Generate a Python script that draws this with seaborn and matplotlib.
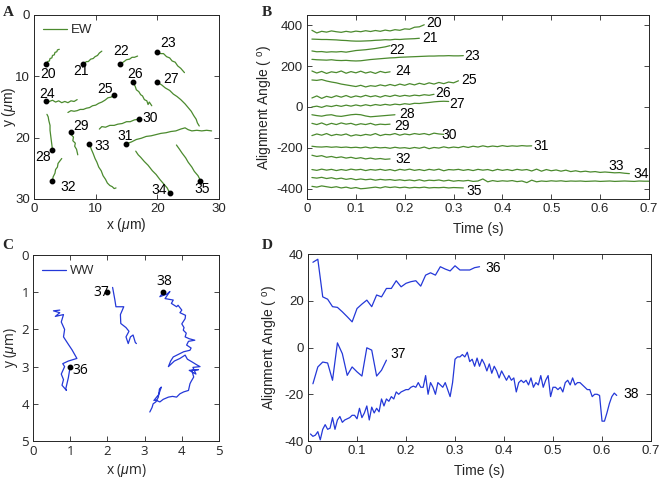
import numpy as np
import pandas as pd
import matplotlib
matplotlib.use("Agg")
import matplotlib.pyplot as plt
import seaborn as sns
from matplotlib.lines import Line2D

# ---------------- data ----------------
# Panel A: EW trajectories (x, y in um), first point = start dot
ew20 = [(2.0, 8.0), (2.2, 7.6), (2.5, 7.5), (2.6, 7.1), (2.9, 7.0), (3.0, 6.6), (3.3, 6.5), (3.4, 6.1), (3.7, 6.0), (3.8, 5.7), (4.1, 5.6)]
ew21 = [(8.0, 8.0), (8.5, 7.6), (8.8, 7.6), (9.2, 7.2), (9.6, 7.1), (9.9, 6.8), (10.3, 6.6), (10.6, 6.2), (11.0, 5.9)]
ew22 = [(14.0, 8.0), (14.6, 7.6), (15.0, 7.3), (15.5, 7.2), (15.9, 6.9), (16.3, 6.9), (16.8, 6.7)]
ew23 = [(20.0, 6.0), (20.5, 6.3), (21.0, 6.3), (21.5, 6.8), (22.0, 7.0), (22.4, 7.5), (22.9, 7.7), (23.3, 8.3), (23.8, 8.7), (24.4, 9.4)]
ew24 = [(2.0, 14.0), (2.5, 14.1), (3.0, 13.9), (3.5, 14.2), (4.0, 14.0), (4.5, 14.3), (5.0, 14.1), (5.5, 14.3), (6.0, 14.0), (6.5, 14.1), (7.0, 13.8)]
ew25 = [(13.0, 13.0), (12.5, 13.4), (12.0, 13.5), (11.5, 13.9), (11.0, 14.2), (10.5, 14.4), (10.0, 14.7), (9.5, 14.8), (9.0, 15.1), (8.5, 15.2), (8.0, 15.4), (7.5, 15.4), (7.0, 15.6), (6.5, 15.7), (6.0, 15.6), (5.5, 15.9)]
ew26 = [(16.0, 11.0), (16.4, 11.6), (16.6, 12.2), (17.0, 12.5), (17.3, 13.0), (17.6, 13.2), (17.9, 13.8), (18.3, 14.0), (18.5, 14.6), (18.7, 14.2), (19.1, 14.8)]
ew27 = [(20.0, 11.0), (20.7, 11.4), (21.3, 11.9), (22.0, 12.3), (22.6, 12.9), (23.2, 13.3), (23.8, 13.8), (24.5, 14.5), (25.0, 15.1), (25.5, 15.7), (25.9, 16.4), (26.3, 17.0), (26.5, 17.6), (26.8, 18.1)]
ew28 = [(3.0, 22.0), (2.9, 21.2), (2.8, 20.4), (2.7, 19.6), (2.6, 18.8), (2.6, 18.0), (2.4, 17.2), (2.3, 16.6), (2.1, 16.2)]
ew29 = [(6.0, 19.0), (6.1, 19.6), (6.4, 19.9), (6.3, 20.5), (6.7, 20.9), (6.6, 21.4), (6.9, 21.9), (7.1, 22.8)]
ew30 = [(17.0, 17.0), (16.3, 17.1), (15.6, 17.4), (15.0, 17.4), (14.3, 17.7), (13.6, 17.8), (13.0, 18.0), (12.3, 18.0), (11.6, 18.3), (11.0, 18.2), (10.6, 18.6)]
ew31 = [(15.0, 21.0), (15.8, 20.7), (16.6, 20.3), (17.4, 20.1), (18.2, 19.8), (19.0, 19.7), (19.8, 19.5), (20.6, 19.3), (21.4, 19.2), (22.2, 19.0), (23.0, 18.9), (23.8, 18.6), (24.5, 18.4), (25.0, 18.7), (25.6, 18.9), (26.4, 18.8), (27.2, 18.9), (28.0, 18.8), (28.8, 18.9)]
ew32 = [(3.0, 27.0), (3.1, 26.4), (3.4, 25.8), (3.5, 25.2), (3.8, 24.8), (3.9, 24.2), (4.2, 23.8), (4.5, 23.4)]
ew33 = [(9.0, 21.0), (9.3, 21.9), (9.6, 22.6), (9.9, 23.4), (10.2, 24.0), (10.5, 24.8), (10.9, 25.4), (11.2, 26.2), (11.6, 26.8), (11.9, 27.4), (12.3, 27.8), (12.7, 28.0), (13.0, 28.3), (13.3, 28.2)]
ew34 = [(22.0, 29.0), (21.6, 28.2), (21.0, 27.5), (20.4, 26.8), (19.8, 26.0), (19.2, 25.4), (18.5, 24.5), (17.9, 23.9), (17.3, 23.2), (16.9, 22.8), (16.5, 22.2)]
ew35 = [(27.0, 27.0), (26.6, 26.2), (26.0, 25.5), (25.6, 24.8), (25.0, 24.0), (24.6, 23.3), (24.0, 22.5), (23.6, 21.9), (23.1, 21.2)]
ew_ids = [20, 21, 22, 23, 24, 25, 26, 27, 28, 29, 30, 31, 32, 33, 34, 35]
ew_label_pos = [(2.3, 9.6), (7.7, 9.1), (14.2, 5.8), (21.8, 4.5), (2.2, 12.9), (11.5, 12.1),
                (16.4, 9.6), (22.3, 10.5), (1.5, 23.2), (7.7, 18.1), (18.8, 16.8), (14.8, 19.7),
                (5.6, 28.1), (11.0, 21.4), (20.3, 28.6), (27.2, 28.4)]

# Panel B: alignment angle (deg), sampled every 0.01 s from t = 0.01 s
B_DT = 0.01
b20 = [375, 362, 370, 366, 372, 368, 365, 370, 366, 371, 368, 373, 369, 374, 370, 376, 372, 378, 375, 382, 380, 390, 392, 402]
b21 = [332, 331, 330, 330, 329, 328, 326, 325, 323, 322, 322, 323, 324, 326, 327, 329, 328, 331, 330, 332, 333, 334, 336]
b22 = [274, 270, 271, 268, 270, 269, 271, 268, 272, 276, 278, 280, 283, 286, 290, 294, 300]
b23 = [233, 231, 230, 229, 231, 228, 227, 228, 226, 225, 226, 229, 232, 234, 236, 238, 240, 241, 243, 244, 245, 246, 247, 248, 249, 249, 250, 250, 251, 250, 250, 251]
b24 = [176, 166, 174, 164, 172, 168, 176, 165, 173, 167, 175, 166, 172, 164, 174, 168, 172]
b25 = [132, 130, 134, 127, 122, 118, 112, 108, 104, 100, 106, 98, 104, 101, 108, 103, 110, 104, 112, 106, 114, 108, 116, 110, 118, 112, 120, 114, 122, 118, 128]
b26 = [44, 54, 42, 52, 46, 55, 48, 56, 47, 54, 49, 57, 50, 55, 48, 56, 51, 58, 52, 57, 53, 58, 55, 60, 57, 62]
b27 = [0, 4, -2, 6, 2, 8, 3, 9, 4, 10, 5, 11, 6, 12, 8, 13, 9, 14, 11, 16, 13, 18, 17, 20, 22, 25, 27, 28, 27]
b28 = [-38, -42, -45, -40, -38, -44, -46, -42, -38, -36, -38, -44, -48, -46, -44, -42, -40, -38]
b29 = [-80, -86, -78, -88, -80, -86, -78, -84, -80, -88, -82, -86, -80, -88, -84, -86, -84]
b30 = [-140, -132, -138, -130, -140, -134, -138, -132, -142, -136, -140, -134, -138, -130, -140, -134, -136, -130, -138, -132, -136, -130, -134, -130, -136, -128, -132, -134]
b31 = [-192, -195, -196, -194, -197, -195, -198, -196, -199, -197, -200, -196, -201, -197, -200, -198, -202, -197, -201, -199,
       -203, -198, -202, -196, -204, -198, -201, -195, -200, -196, -199, -193, -198, -192, -196, -190, -195, -191, -194, -189,
       -193, -190, -192, -189, -191, -190]
b32 = [-236, -242, -238, -246, -242, -248, -244, -250, -246, -252, -248, -254, -250, -255, -252, -256, -254]
b33 = [-306, -310, -304, -309, -305, -311, -306, -310, -304, -308, -305, -311, -306, -309, -305, -310, -306, -312, -305, -309,
       -304, -310, -306, -311, -305, -309, -304, -312, -306, -308, -305, -310, -306, -311, -305, -309, -306, -312, -305, -310,
       -306, -311, -305, -309, -306, -313, -304, -314, -306, -312, -308, -314, -309, -316, -312, -317, -314, -318, -316, -320,
       -318, -320, -322, -321, -324, -326]
b34 = [-345, -348, -344, -350, -346, -352, -348, -354, -350, -356, -352, -356, -353, -358, -354, -357, -355, -359, -356, -360,
       -357, -361, -356, -362, -358, -360, -357, -362, -358, -363, -360, -362, -359, -364, -362, -352, -366, -360, -364, -361,
       -363, -360, -365, -362, -370, -358, -366, -362, -364, -361, -363, -361, -364, -362, -363, -362, -364, -363, -362, -364,
       -363, -362, -364, -363, -362, -363, -364, -362, -363, -363]
b35 = [-388, -392, -386, -390, -394, -390, -396, -392, -398, -394, -400, -398, -395, -392, -396, -390, -394, -391, -395, -392,
       -396, -393, -395, -392, -396, -394, -395, -393, -396, -394, -395, -396]
b_label_pos = [(0.245, 412), (0.236, 336), (0.168, 281), (0.322, 247), (0.18, 174), (0.315, 130),
               (0.262, 70), (0.291, 13), (0.189, -33), (0.178, -93), (0.276, -135), (0.464, -190),
               (0.18, -254), (0.617, -288), (0.669, -330), (0.327, -411)]

# Panel C: WW trajectories (x, y in um)
ww36 = [(1.0, 3.0), (0.95, 3.3), (0.88, 3.6), (0.9, 3.64), (0.78, 3.5), (0.82, 3.35), (0.76, 3.2), (0.85, 3.0), (0.8, 2.92),
        (0.95, 2.85), (1.18, 2.78), (1.05, 2.55), (0.95, 2.4), (0.82, 2.2), (0.85, 2.0), (0.76, 1.8), (0.82, 1.6),
        (0.6, 1.65), (0.72, 1.55), (0.55, 1.5), (0.72, 1.48)]
ww37 = [(2.14, 0.87), (2.2, 1.2), (2.23, 1.39), (2.44, 1.39), (2.35, 1.6), (2.36, 1.84), (2.5, 1.95), (2.58, 2.05),
        (2.5, 2.2), (2.56, 2.38), (2.62, 2.2), (2.69, 2.15), (2.75, 2.35), (2.78, 2.38)]
ww38 = [(3.5, 1.0), (3.41, 1.12), (3.6, 1.05), (3.68, 0.98), (3.55, 1.17), (3.77, 1.21), (3.72, 1.3), (3.86, 1.39),
        (3.9, 1.35), (4.0, 1.48), (3.95, 1.55), (4.1, 1.62), (4.09, 1.71), (4.0, 1.85), (4.06, 1.95), (4.04, 2.02),
        (4.12, 2.1), (4.09, 2.2), (4.2, 2.25), (4.35, 2.29), (4.18, 2.32), (4.13, 2.42), (4.25, 2.5), (4.22, 2.56),
        (4.05, 2.6), (3.95, 2.65), (3.85, 2.7), (3.77, 2.74), (3.7, 2.85), (3.64, 3.0), (3.8, 2.85), (3.95, 2.78),
        (4.09, 2.69), (4.15, 2.8), (4.27, 2.87), (4.4, 2.95), (4.49, 3.0), (4.3, 3.02), (4.38, 3.2), (4.2, 3.1),
        (4.45, 3.08), (4.27, 3.1), (4.32, 3.28), (4.25, 3.4), (4.22, 3.46), (4.2, 3.55), (4.18, 3.64), (4.05, 3.68),
        (3.95, 3.73), (3.86, 3.82), (3.75, 3.8), (3.64, 3.82), (3.5, 3.88), (3.41, 3.95), (3.3, 3.9), (3.25, 3.91),
        (3.38, 3.75), (3.45, 3.55), (3.4, 3.6), (3.37, 3.82), (3.3, 3.95), (3.23, 4.0), (3.2, 4.1), (3.14, 4.22)]
ww_ids = [36, 37, 38]
ww_dots = [(1.0, 3.0), (2.0, 1.0), (3.5, 1.0)]
ww_label_pos = [(1.05, 3.1), (1.62, 1.0), (3.32, 0.72)]

# Panel D: alignment angle (deg)
d36_dt = 0.01
d36 = [36.5, 37.8, 21.7, 20.7, 17.5, 17.2, 15.3, 13.2, 11.0, 16.7, 18.6, 20.3, 17.5, 22.5, 21.7, 25.3, 25.3, 28.6,
       26.0, 27.5, 28.2, 28.6, 26.3, 31.0, 32.0, 31.0, 34.6, 33.6, 32.8, 35.0, 33.2, 33.2, 33.2, 34.2, 34.6]
d37_dt = 0.01
d37 = [-15.5, -8.3, -6.2, -6.6, -14.0, 2.0, -2.6, -11.9, -8.3, -10.4, -12.2, -0.1, -1.1, -12.2, -9.7, -5.4]
d38_dt = 0.005
d38 = [-37, -38, -37.5, -36, -39.5, -35, -33, -35, -34.5, -30, -35, -31, -29.5, -32, -31, -30.5, -30, -29, -29, -30.5,
       -26, -30, -28, -25, -31, -25.5, -28, -26, -27.5, -22, -25, -22, -23, -21, -22, -19, -20, -19, -18.5, -18,
       -18, -17, -16.5, -17, -15, -17, -17, -12, -20, -15, -17, -20, -15, -16, -17, -15, -18, -21, -15, -5,
       -4, -4, -3, -4, -2, -6, -5, -8, -4.5, -8, -5, -7, -10, -7, -11, -8, -10, -13, -10, -12,
       -14, -12, -14, -13, -19, -15, -14, -15, -14, -16, -13, -17, -15, -16, -12, -17, -14, -12, -21, -17,
       -17, -18, -17, -19, -15, -14, -16, -13, -16, -15, -15, -16, -17, -18, -18, -21, -20, -20, -20.5, -31.5,
       -31.5, -28, -24, -21, -19.5, -20.5]
d_label_pos = [(0.362, 34.0), (0.168, -2.9), (0.643, -19.7)]

# ---------------- style ----------------
sns.set_style("ticks")
plt.rcParams["font.family"] = ["Liberation Sans", "DejaVu Sans"]
plt.rcParams["mathtext.fontset"] = "custom"
plt.rcParams["mathtext.rm"] = "Liberation Sans"
plt.rcParams["mathtext.it"] = "Liberation Sans:italic"

GREEN = "#4b8a2e"
BLUE = "#2438d8"
TXT = "#262626"
FS = 9.5
LW = 0.9

fig = plt.figure(figsize=(6.6, 4.78), dpi=100)
axA = fig.add_axes([0.0515, 0.5837, 0.2803, 0.385])
axB = fig.add_axes([0.4652, 0.5837, 0.518, 0.385])
axC = fig.add_axes([0.050, 0.0774, 0.2818, 0.389])
axD = fig.add_axes([0.4667, 0.0774, 0.5197, 0.391])


def style(ax):
    for s in ax.spines.values():
        s.set_visible(True)
        s.set_color(TXT)
        s.set_linewidth(0.7)
    ax.tick_params(direction="in", top=True, right=True, length=3.5, width=0.6,
                   labelsize=FS, colors=TXT, pad=3)


def draw_path(ax, pts, color, lw=LW):
    df = pd.DataFrame(pts, columns=["x", "y"])
    sns.lineplot(data=df, x="x", y="y", sort=False, estimator=None, color=color, lw=lw, ax=ax)


# ---- A ----
ew_paths = [ew20, ew21, ew22, ew23, ew24, ew25, ew26, ew27, ew28, ew29, ew30, ew31, ew32, ew33, ew34, ew35]
for pid, pts, (lx, ly) in zip(ew_ids, ew_paths, ew_label_pos):
    draw_path(axA, pts, GREEN)
    axA.plot(pts[0][0], pts[0][1], "o", color="black", ms=3.2, zorder=5)
    axA.text(lx, ly, str(pid), fontsize=FS + 0.5, ha="center", va="center", color="black")
axA.set_xlim(0, 30)
axA.set_ylim(30, 0)
axA.set_xticks([0, 10, 20, 30])
axA.set_xticklabels(["0", "10", "20", "30"])
axA.set_yticks([0, 10, 20, 30])
axA.set_yticklabels(["0", "10", "20", "30"])
axA.set_xlabel(r"x ($\mu$m)", fontsize=FS + 0.5, color=TXT)
axA.set_ylabel(r"y ($\mu$m)", fontsize=FS + 0.5, color=TXT)
axA.xaxis.set_label_coords(0.5, -0.092)
axA.yaxis.set_label_coords(-0.085, 0.5)
axA.legend(handles=[Line2D([0], [0], color=GREEN, lw=0.9)], labels=["EW"], loc="upper left",
           frameon=False, fontsize=FS, handlelength=1.8, handletextpad=0.3, borderaxespad=0.3)
style(axA)

# ---- B ----
b_series = [b20, b21, b22, b23, b24, b25, b26, b27, b28, b29, b30, b31, b32, b33, b34, b35]
for pid, vals, (lx, ly) in zip(ew_ids, b_series, b_label_pos):
    t = B_DT * np.arange(1, len(vals) + 1)
    sns.lineplot(x=t, y=vals, sort=False, estimator=None, color=GREEN, lw=LW, ax=axB)
    axB.text(lx, ly, str(pid), fontsize=FS + 0.5, ha="left", va="center", color="black")
axB.set_xlim(0, 0.7)
axB.set_ylim(-450, 450)
axB.set_xticks([0, 0.1, 0.2, 0.3, 0.4, 0.5, 0.6, 0.7])
axB.set_xticklabels(["0", "0.1", "0.2", "0.3", "0.4", "0.5", "0.6", "0.7"])
axB.set_yticks([-400, -200, 0, 200, 400])
axB.set_yticklabels(["-400", "-200", "0", "200", "400"])
axB.set_xlabel("Time (s)", fontsize=FS + 0.5, color=TXT)
axB.set_ylabel(r"Alignment Angle ( $^{\rm o}$)", fontsize=FS + 0.5, color=TXT)
axB.xaxis.set_label_coords(0.5, -0.125)
axB.yaxis.set_label_coords(-0.094, 0.5)
style(axB)

# ---- C ----
cfont = ["Open Sans", "DejaVu Sans"]
for pid, pts, dot, (lx, ly) in zip(ww_ids, [ww36, ww37, ww38], ww_dots, ww_label_pos):
    draw_path(axC, pts, BLUE)
    axC.plot(dot[0], dot[1], "o", color="black", ms=3.2, zorder=5)
    axC.text(lx, ly, str(pid), fontsize=FS + 0.5, ha="left", va="center", color="black", family=cfont)
axC.set_xlim(0, 5)
axC.set_ylim(5, 0)
axC.set_xticks([0, 1, 2, 3, 4, 5])
axC.set_xticklabels(["0", "1", "2", "3", "4", "5"], family=cfont)
axC.set_yticks([0, 1, 2, 3, 4, 5])
axC.set_yticklabels(["0", "1", "2", "3", "4", "5"], family=cfont)
axC.set_xlabel(r"x ($\mu$m)", fontsize=FS + 0.5, color=TXT, family=cfont)
axC.set_ylabel(r"y ($\mu$m)", fontsize=FS + 0.5, color=TXT, family=cfont)
axC.xaxis.set_label_coords(0.5, -0.113)
axC.yaxis.set_label_coords(-0.07, 0.5)
axC.legend(handles=[Line2D([0], [0], color=BLUE, lw=0.9)], labels=["WW"], loc="upper left",
           frameon=False, handlelength=1.8, handletextpad=0.3, borderaxespad=0.3,
           prop={"family": cfont, "size": FS})
style(axC)

# ---- D ----
for pid, vals, dt, (lx, ly) in zip(ww_ids, [d36, d37, d38], [d36_dt, d37_dt, d38_dt], d_label_pos):
    t = dt * np.arange(1, len(vals) + 1)
    sns.lineplot(x=t, y=vals, sort=False, estimator=None, color=BLUE, lw=LW, ax=axD)
    axD.text(lx, ly, str(pid), fontsize=FS + 0.5, ha="left", va="center", color="black")
axD.set_xlim(0, 0.7)
axD.set_ylim(-40, 40)
axD.set_xticks([0, 0.1, 0.2, 0.3, 0.4, 0.5, 0.6, 0.7])
axD.set_xticklabels(["0", "0.1", "0.2", "0.3", "0.4", "0.5", "0.6", "0.7"])
axD.set_yticks([-40, -20, 0, 20, 40])
axD.set_yticklabels(["-40", "-20", "0", "20", "40"])
axD.set_xlabel("Time (s)", fontsize=FS + 0.5, color=TXT)
axD.set_ylabel(r"Alignment Angle ( $^{\rm o}$)", fontsize=FS + 0.5, color=TXT)
axD.xaxis.set_label_coords(0.5, -0.123)
axD.yaxis.set_label_coords(-0.082, 0.5)
style(axD)

# panel letters
for letter, (px, py) in zip(["A", "B", "C", "D"], [(8, 12), (267, 12), (8, 246), (267, 246)]):
    fig.text(px / 660, 1 - py / 478, letter, fontsize=11, fontweight="bold",
             family=["Liberation Serif", "DejaVu Serif"], ha="center", va="center")

fig.savefig("out.png", dpi=100)
